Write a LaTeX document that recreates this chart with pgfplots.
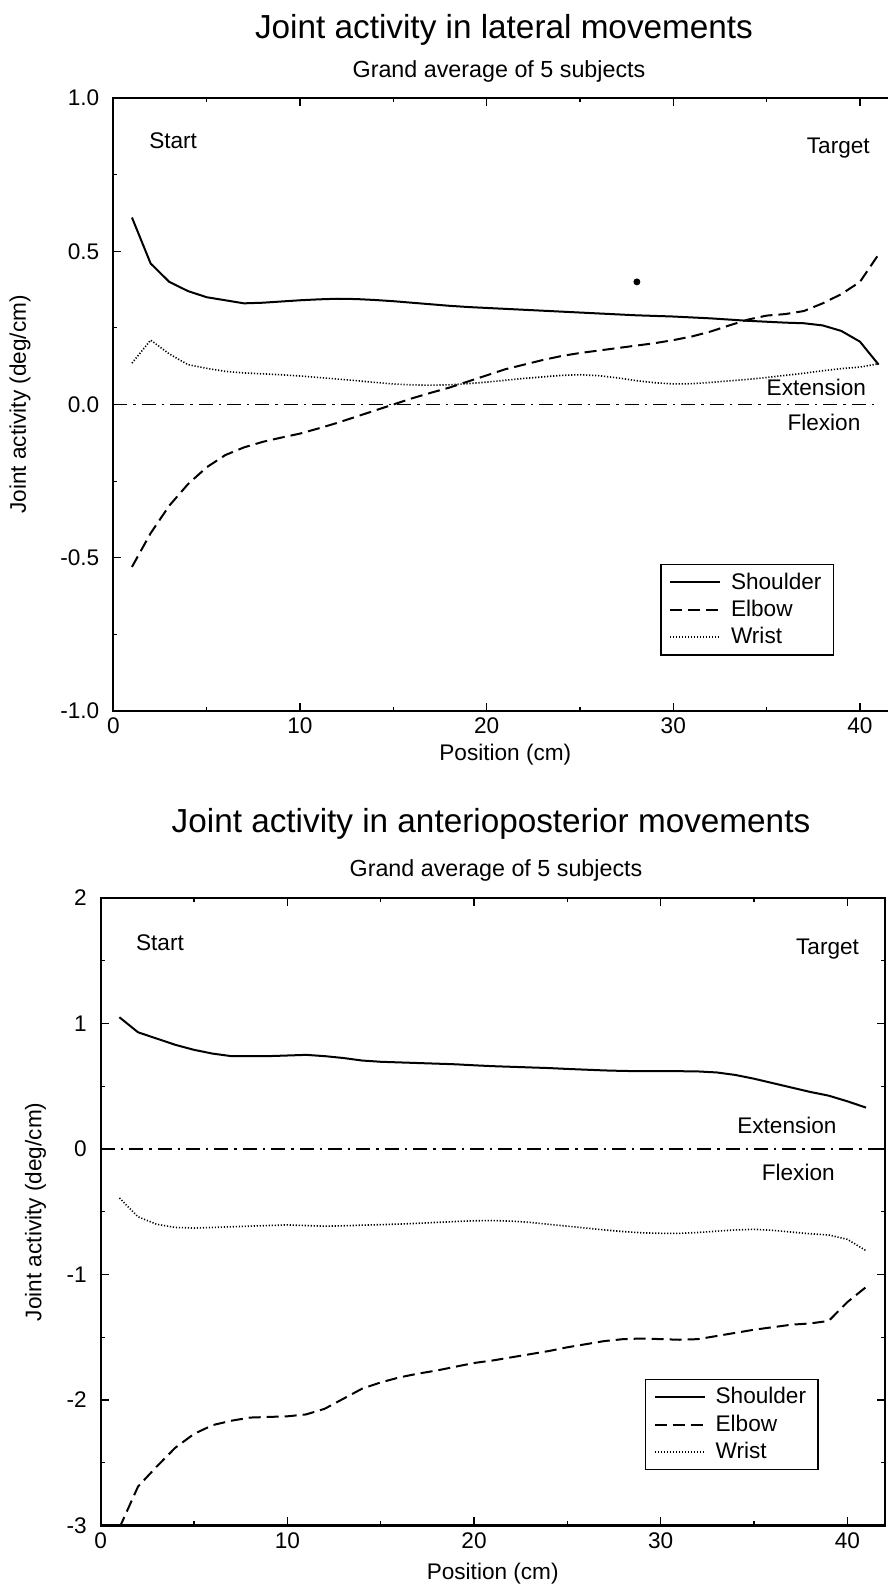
\documentclass[border=0pt]{standalone}
\usepackage{fontspec}
\setmainfont{Liberation Sans}
\usepackage{pgfplots}
\usepackage{pgfplotstable}
\pgfplotsset{compat=1.18}

\newcommand{\lbl}{\fontsize{11.3}{13}\selectfont}

% lateral movements: position, shoulder, elbow, wrist
\pgfplotstableread{
x sh el wr
1 0.61 -0.53 0.135
2 0.46 -0.42 0.21
3 0.40 -0.33 0.165
4 0.37 -0.26 0.13
5 0.35 -0.205 0.118
6 0.34 -0.165 0.108
7 0.33 -0.14 0.103
8 0.332 -0.122 0.100
9 0.336 -0.108 0.097
10 0.340 -0.095 0.093
11 0.343 -0.078 0.088
12 0.345 -0.060 0.083
13 0.344 -0.040 0.078
14 0.341 -0.020 0.072
15 0.337 0.000 0.067
16 0.332 0.020 0.064
17 0.327 0.038 0.063
18 0.322 0.055 0.064
19 0.318 0.075 0.068
20 0.315 0.095 0.073
21 0.312 0.115 0.079
22 0.309 0.130 0.085
23 0.306 0.145 0.090
24 0.303 0.158 0.095
25 0.300 0.168 0.097
26 0.297 0.176 0.094
27 0.294 0.184 0.087
28 0.291 0.192 0.078
29 0.289 0.200 0.071
30 0.287 0.210 0.067
31 0.284 0.222 0.068
32 0.281 0.238 0.072
33 0.277 0.258 0.077
34 0.273 0.277 0.082
35 0.270 0.290 0.088
36 0.267 0.295 0.095
37 0.265 0.305 0.102
38 0.258 0.330 0.110
39 0.240 0.360 0.117
40 0.205 0.400 0.122
41 0.130 0.490 0.133
}\lateral

% anterioposterior movements
\pgfplotstableread{
x sh el wr
1 1.05 -3.02 -0.39
2 0.93 -2.69 -0.54
3 0.88 -2.53 -0.60
4 0.83 -2.38 -0.625
5 0.79 -2.27 -0.63
6 0.76 -2.20 -0.625
7 0.74 -2.165 -0.62
8 0.74 -2.14 -0.615
9 0.74 -2.135 -0.61
10 0.745 -2.13 -0.605
11 0.75 -2.115 -0.61
12 0.74 -2.07 -0.615
13 0.725 -1.99 -0.612
14 0.705 -1.91 -0.607
15 0.695 -1.86 -0.603
16 0.69 -1.82 -0.598
17 0.685 -1.79 -0.592
18 0.68 -1.765 -0.585
19 0.675 -1.735 -0.578
20 0.667 -1.705 -0.572
21 0.66 -1.685 -0.57
22 0.655 -1.66 -0.575
23 0.65 -1.635 -0.585
24 0.645 -1.61 -0.60
25 0.638 -1.58 -0.615
26 0.632 -1.555 -0.63
27 0.626 -1.53 -0.645
28 0.622 -1.515 -0.658
29 0.62 -1.51 -0.668
30 0.62 -1.515 -0.672
31 0.62 -1.52 -0.672
32 0.618 -1.515 -0.665
33 0.61 -1.49 -0.655
34 0.59 -1.465 -0.645
35 0.56 -1.44 -0.64
36 0.525 -1.42 -0.648
37 0.49 -1.40 -0.662
38 0.455 -1.39 -0.675
39 0.425 -1.37 -0.685
40 0.38 -1.22 -0.72
41 0.33 -1.10 -0.81
}\antpost

\pgfplotsset{
  joint/.style={
    scale only axis,
    anchor=south west,
    width=392pt,
    xmin=0, xmax=42,
    xtick={0,10,20,30,40},
    minor x tick num=1,
    minor y tick num=1,
    tick align=inside,
    major tick length=4pt,
    minor tick length=2pt,
    every tick/.style={black, line width=0.6pt},
    axis line style={line width=1.1pt},
    /pgf/number format/assume math mode=true,
    tick label style={font=\lbl},
    yticklabel style={xshift=-3.5pt},
    label style={font=\lbl},
    xlabel={Position (cm)},
    ylabel={Joint activity (deg/cm)},
    legend image code/.code={\draw[##1] (0pt,0pt) -- (25pt,0pt); \path (28pt,0pt);},
    legend style={anchor=north west, draw=black, line width=0.8pt, font=\lbl,
      inner xsep=4pt, inner ysep=2pt, row sep=0pt, cells={anchor=west}},
  },
  sh/.style={black, line width=1pt},
  el/.style={black, line width=1pt, dash pattern=on 6pt off 3pt},
  wr/.style={black, line width=0.8pt, dash pattern=on 0.6pt off 0.9pt},
  zl/.style={black, line width=0.8pt, dash pattern=on 7pt off 3pt on 1.2pt off 3pt},
}

\begin{document}
\begin{tikzpicture}
\path[use as bounding box] (0,0) rectangle (444pt,795pt);

\node[anchor=base, font=\fontsize{16.65}{20}\selectfont] at (252pt,775.75pt) {Joint activity in lateral movements};
\node[anchor=base, font=\fontsize{11.65}{14}\selectfont] at (249.5pt,756pt) {Grand average of 5 subjects};
\node[anchor=base, font=\fontsize{16.65}{20}\selectfont] at (245.5pt,378.5pt) {Joint activity in anterioposterior movements};
\node[anchor=base, font=\fontsize{11.65}{14}\selectfont] at (248pt,356.5pt) {Grand average of 5 subjects};

\begin{axis}[joint,
  at={(56.65pt,439.5pt)},
  height=306.5pt,
  ymin=-1, ymax=1,
  ytick={-1,-0.5,0,0.5,1},
  yticklabel style={/pgf/number format/.cd, fixed, fixed zerofill, precision=1},
  x label style={at={(axis description cs:0.5,-0.0718)}, anchor=center},
  y label style={at={(axis description cs:-0.119,0.5)}, anchor=center},
  legend style={at={(axis cs:29.3,-0.52)}},
]
\addplot[sh] table[x=x, y=sh] {\lateral};
\addplot[el] table[x=x, y=el] {\lateral};
\addplot[wr] table[x=x, y=wr] {\lateral};
\legend{Shoulder, Elbow, Wrist}
\addplot[zl, forget plot] coordinates {(0,0) (41,0)};
\addplot[only marks, mark=*, mark size=1.5pt, black, forget plot] coordinates {(28.05,0.40)};
\node[anchor=west, font=\lbl] at (axis cs:1.55,0.86) {Start};
\node[anchor=east, font=\lbl] at (axis cs:40.9,0.837) {Target};
\node[anchor=east, font=\lbl] at (axis cs:40.7,0.055) {Extension};
\node[anchor=east, font=\lbl] at (axis cs:40.4,-0.06) {Flexion};
\end{axis}

\begin{axis}[joint,
  at={(50.35pt,32.25pt)},
  height=313.75pt,
  ymin=-3, ymax=2,
  ytick={-3,-2,-1,0,1,2},
  x label style={at={(axis description cs:0.5,-0.0773)}, anchor=center},
  y label style={at={(axis description cs:-0.0831,0.5)}, anchor=center},
  legend style={at={(axis cs:29.15,-1.83)}},
]
\addplot[sh] table[x=x, y=sh] {\antpost};
\addplot[el] table[x=x, y=el] {\antpost};
\addplot[wr] table[x=x, y=wr] {\antpost};
\legend{Shoulder, Elbow, Wrist}
\addplot[zl, forget plot] coordinates {(0,0) (42,0)};
\node[anchor=west, font=\lbl] at (axis cs:1.52,1.64) {Start};
\node[anchor=east, font=\lbl] at (axis cs:41.0,1.59) {Target};
\node[anchor=east, font=\lbl] at (axis cs:39.8,0.19) {Extension};
\node[anchor=east, font=\lbl] at (axis cs:39.7,-0.19) {Flexion};
\end{axis}
\end{tikzpicture}
\end{document}
